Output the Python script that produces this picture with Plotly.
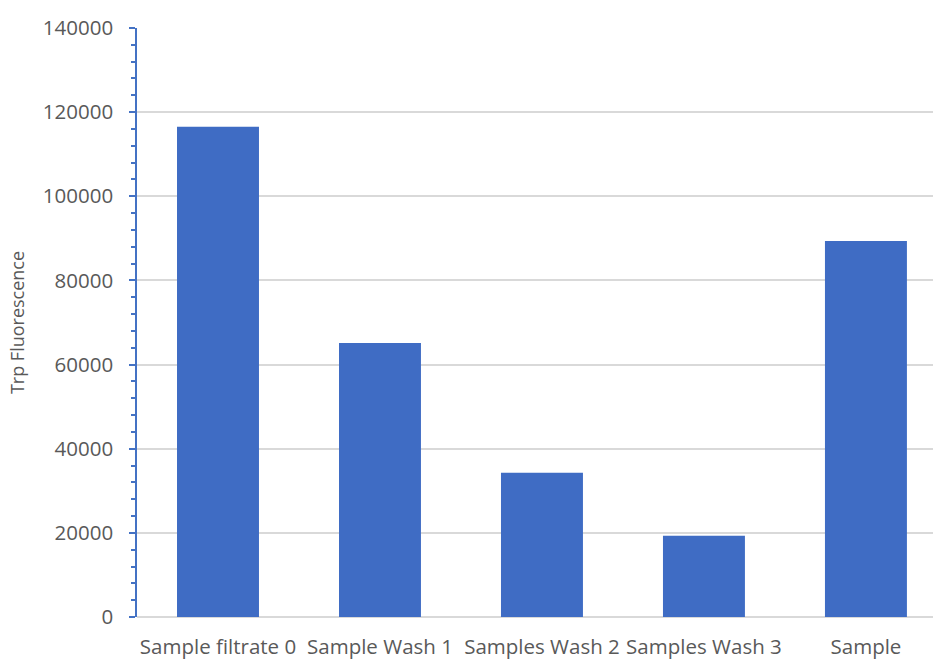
import plotly.graph_objects as go

categories = ["Sample filtrate 0", "Sample Wash 1", "Samples Wash 2", "Samples Wash 3", "Sample"]
values = [116500, 65100, 34300, 19300, 89400]
y_title = "Trp Fluorescence"

fig = go.Figure()
fig.add_trace(go.Bar(
    x=categories, y=values,
    marker=dict(color="#3F6CC4", line=dict(width=0)),
))

font_family = "Open Sans, Liberation Sans, sans-serif"
fig.update_layout(
    width=933, height=659,
    margin=dict(l=137, r=0, t=28, b=42),
    paper_bgcolor="white", plot_bgcolor="white",
    bargap=0.494,
    showlegend=False,
    font=dict(family=font_family, color="#595959", size=20),
)
fig.update_xaxes(
    range=[-0.5, 4.414],
    showgrid=False, showline=False, ticks="",
    tickfont=dict(size=20.5, color="#595959"),
    ticklabelstandoff=15,
    fixedrange=True,
)
fig.update_yaxes(
    range=[0, 140000],
    dtick=20000, tick0=0,
    showgrid=True, gridcolor="#d9d9d9", gridwidth=1.5,
    zeroline=True, zerolinecolor="#d9d9d9", zerolinewidth=1.5,
    showline=True, linecolor="#4472C4", linewidth=1.5,
    ticks="outside", ticklen=6, tickwidth=1.5, tickcolor="#4472C4",
    minor=dict(dtick=4000, ticks="outside", ticklen=4, tickwidth=1.5, tickcolor="#4472C4", showgrid=False),
    tickfont=dict(size=20.5, color="#595959"),
    ticklabelstandoff=12,
    title=dict(text=y_title, font=dict(size=18, color="#595959"), standoff=14),
    tickformat="d",
)

fig.write_html("out.html")
